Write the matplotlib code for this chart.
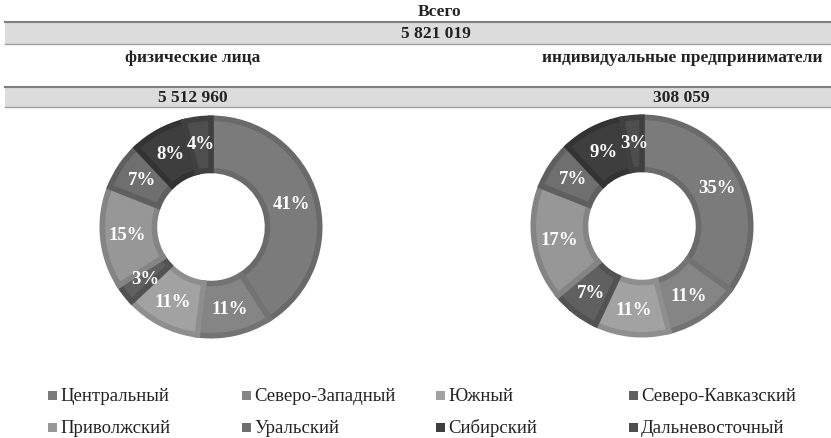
import matplotlib.pyplot as plt
from matplotlib.patches import Rectangle
from matplotlib.lines import Line2D

plt.rcParams['font.family'] = ['Liberation Serif', 'DejaVu Serif']

# data
regions = ['Центральный', 'Северо-Западный', 'Южный', 'Северо-Кавказский',
           'Приволжский', 'Уральский', 'Сибирский', 'Дальневосточный']
phys_share = [41, 11, 11, 3, 15, 7, 8, 4]
ip_share = [35, 11, 11, 7, 17, 7, 9, 3]
total_label = '5 821 019'
phys_label = '5 512 960'
ip_label = '308 059'

colors = ['#7b7b7b', '#858585', '#a2a2a2', '#606060',
          '#979797', '#6f6f6f', '#3e3e3e', '#4e4e4e']
edges = ['#6a6a6a', '#737373', '#8e8e8e', '#525252',
         '#848484', '#5f5f5f', '#333333', '#404040']

W, H = 831, 439
fig = plt.figure(figsize=(W / 100, H / 100), dpi=100)


def fx(x):
    return x / W


def fy(y):
    return 1 - y / H


# header bands
def band(y0, y1):
    fig.add_artist(Rectangle((fx(5), fy(y1)), fx(W - 5), (y1 - y0) / H,
                             transform=fig.transFigure, facecolor='#dcdcdc',
                             edgecolor='none'))
    fig.add_artist(Line2D([fx(5), 1], [fy(y0), fy(y0)], transform=fig.transFigure,
                          color='#7f7f7f', lw=1.5))
    fig.add_artist(Line2D([fx(5), 1], [fy(y1), fy(y1)], transform=fig.transFigure,
                          color='#a0a0a0', lw=1))


band(23, 45)
band(88, 108)

bold = dict(fontweight='bold', fontsize=12.5, ha='center', va='center', color='#222222')
fig.text(fx(440), fy(12), 'Всего', **bold)
fig.text(fx(436), fy(34), total_label, **bold)
fig.text(fx(193), fy(58), 'физические лица', **bold)
fig.text(fx(682), fy(58), 'индивидуальные предприниматели', **bold)
fig.text(fx(193), fy(98), phys_label, **bold)
fig.text(fx(681), fy(98), ip_label, **bold)


# donuts
def donut(cx, cy, values):
    r = 112
    ax = fig.add_axes([fx(cx - r), fy(cy + r), 2 * r / W, 2 * r / H])
    wedges, texts, autotexts = ax.pie(
        values, colors=colors, startangle=90, counterclock=False,
        radius=1, autopct='%d%%', pctdistance=0.77,
        wedgeprops=dict(width=0.48, linewidth=4),
        textprops=dict(color='white', fontweight='bold', fontsize=13.5))
    for w, e in zip(wedges, edges):
        w.set_edgecolor(e)
    ax.set_xlim(-1.03, 1.03)
    ax.set_ylim(-1.03, 1.03)
    ax.set_aspect('equal')
    ax.axis('off')
    return wedges


donut(211, 228, phys_share)
donut(642, 227, ip_share)

# legend: 2 rows x 4 columns, square marker + label
col_x = [48, 242, 436, 629]
row_base = [401, 433]
for i, name in enumerate(regions):
    x = col_x[i % 4]
    y = row_base[i // 4]
    fig.add_artist(Rectangle((fx(x), fy(y)), 9 / W, 9 / H,
                             transform=fig.transFigure, facecolor=colors[i],
                             edgecolor='none'))
    fig.text(fx(x + 12), fy(y), name, fontsize=13.5, ha='left',
             va='baseline', color='#222222')

fig.savefig('out.png', dpi=100)
